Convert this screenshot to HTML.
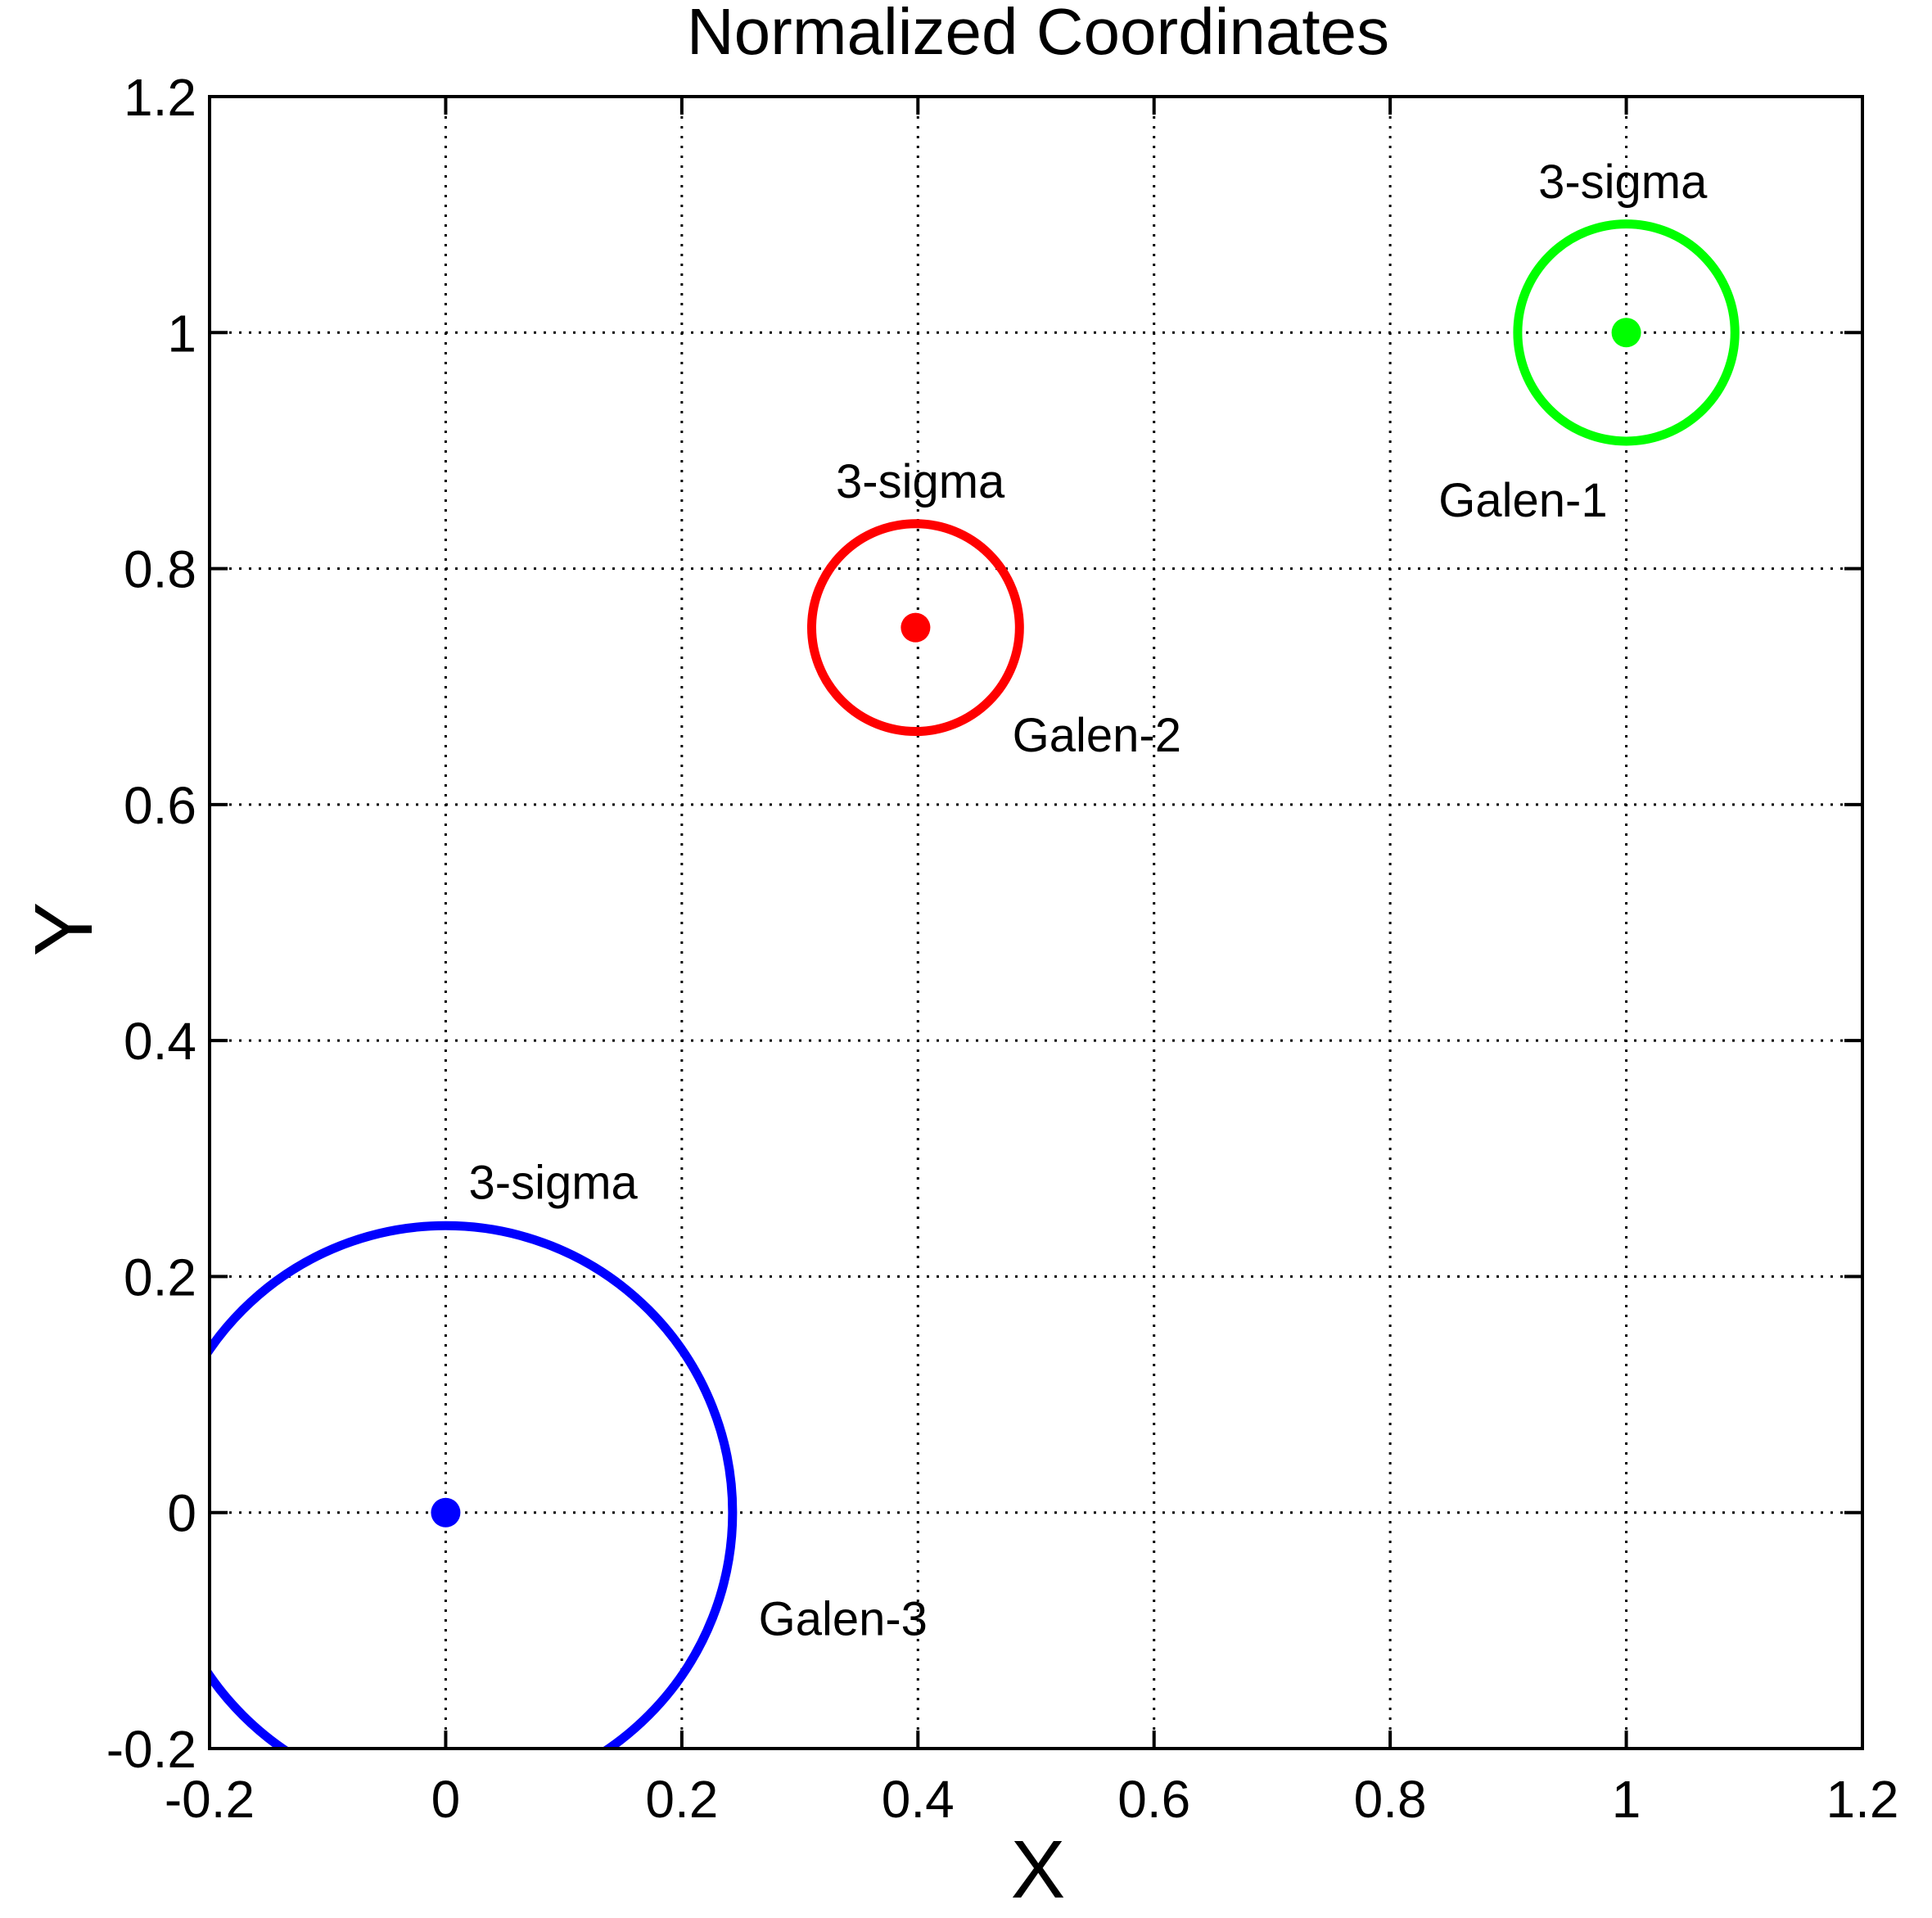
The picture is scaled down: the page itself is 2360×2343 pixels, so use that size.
<!DOCTYPE html>
<html><head><meta charset="utf-8"><style>
html,body{margin:0;padding:0;background:#fff;}
svg{display:block;font-family:"Liberation Sans",Arial,sans-serif;}
</style></head><body>
<svg id="chart" width="2360" height="2343" viewBox="0 0 2360 2343" xmlns="http://www.w3.org/2000/svg">
<rect width="2360" height="2343" fill="#fff"/>
<defs><clipPath id="plotclip"><rect x="256" y="118" width="2019" height="2018"/></clipPath></defs>
<g id="grid"></g>
<g id="marks" clip-path="url(#plotclip)"></g>
<g id="labels"></g>
<rect x="256" y="118" width="2019" height="2018" fill="none" stroke="#000" stroke-width="4"/>
<g id="ticks"></g>
<text x="1268" y="66" font-size="80" text-anchor="middle">Normalized Coordinates</text>
<text x="1268" y="2318" font-size="100" text-anchor="middle">X</text>
<text x="112" y="1135" font-size="100" text-anchor="middle" transform="rotate(-90 112 1135)">Y</text>
</svg>
<script>
const xTicks = [-0.2, 0, 0.2, 0.4, 0.6, 0.8, 1, 1.2];
const yTicks = [-0.2, 0, 0.2, 0.4, 0.6, 0.8, 1, 1.2];
const xTickLabels = ["-0.2", "0", "0.2", "0.4", "0.6", "0.8", "1", "1.2"];
const yTickLabels = ["-0.2", "0", "0.2", "0.4", "0.6", "0.8", "1", "1.2"];
const seriesNames = ["Galen-1", "Galen-2", "Galen-3"];
const centerX = [1, 0.398, 0];
const centerY = [1, 0.75, 0];
const sigmaRadius = [0.092, 0.088, 0.243];
const colors = ["#00ff00", "#ff0000", "#0000ff"];
const nameLabelX = [0.841, 0.48, 0.265];
const nameLabelY = [0.844, 0.645, -0.104];
const sigmaLabelX = [0.997, 0.402, 0.091];
const sigmaLabelY = [1.114, 0.86, 0.266];

const X0 = 256, X1 = 2275, Y0 = 2136, Y1 = 118;
const sx = v => X0 + (v + 0.2) / 1.4 * (X1 - X0);
const sy = v => Y0 - (v + 0.2) / 1.4 * (Y0 - Y1);
const scaleR = r => r / 1.4 * (X1 - X0);
const NS = "http://www.w3.org/2000/svg";
function mk(tag, attrs, parent) {
  const e = document.createElementNS(NS, tag);
  for (const k in attrs) e.setAttribute(k, attrs[k]);
  parent.appendChild(e);
  return e;
}
const grid = document.getElementById('grid');
const ticks = document.getElementById('ticks');
const marks = document.getElementById('marks');
const labels = document.getElementById('labels');

xTicks.forEach((v, i) => {
  const x = sx(v);
  if (i > 0 && i < xTicks.length - 1) {
    const g = mk('line', {x1: x, x2: x, y1: Y1, y2: Y0, stroke: '#000', 'stroke-width': 3, 'stroke-dasharray': '3 9'}, grid);
    
    
    const t1 = mk('line', {x1: x, x2: x, y1: Y0, y2: Y0 - 22, stroke: '#000', 'stroke-width': 4}, ticks);
    
    
    const t2 = mk('line', {x1: x, x2: x, y1: Y1, y2: Y1 + 22, stroke: '#000', 'stroke-width': 4}, ticks);
    
    
  }
  const t = mk('text', {x: x, y: 2220, 'font-size': 64, 'text-anchor': 'middle'}, ticks);
  t.textContent = xTickLabels[i];
  
  
});
yTicks.forEach((v, i) => {
  const y = sy(v);
  if (i > 0 && i < yTicks.length - 1) {
    const g = mk('line', {x1: X0, x2: X1, y1: y, y2: y, stroke: '#000', 'stroke-width': 3, 'stroke-dasharray': '3 9'}, grid);
    
    
    const t1 = mk('line', {x1: X0, x2: X0 + 22, y1: y, y2: y, stroke: '#000', 'stroke-width': 4}, ticks);
    
    
    const t2 = mk('line', {x1: X1, x2: X1 - 22, y1: y, y2: y, stroke: '#000', 'stroke-width': 4}, ticks);
    
    
  }
  const t = mk('text', {x: 240, y: y + 23, 'font-size': 64, 'text-anchor': 'end'}, ticks);
  t.textContent = yTickLabels[i];
  
  
});

seriesNames.forEach((n, i) => {
  const c = mk('circle', {cx: sx(centerX[i]), cy: sy(centerY[i]), r: scaleR(sigmaRadius[i]), fill: 'none', stroke: colors[i], 'stroke-width': 11}, marks);
  
  
  const d = mk('circle', {cx: sx(centerX[i]), cy: sy(centerY[i]), r: 18, fill: colors[i]}, marks);
  
  
  const nl = mk('text', {x: sx(nameLabelX[i]), y: sy(nameLabelY[i]), 'font-size': 58}, labels);
  nl.textContent = n;
  
  
  const sl = mk('text', {x: sx(sigmaLabelX[i]), y: sy(sigmaLabelY[i]), 'font-size': 58, 'text-anchor': 'middle'}, labels);
  sl.textContent = '3-sigma';
  
  
});
</script>
</body></html>
